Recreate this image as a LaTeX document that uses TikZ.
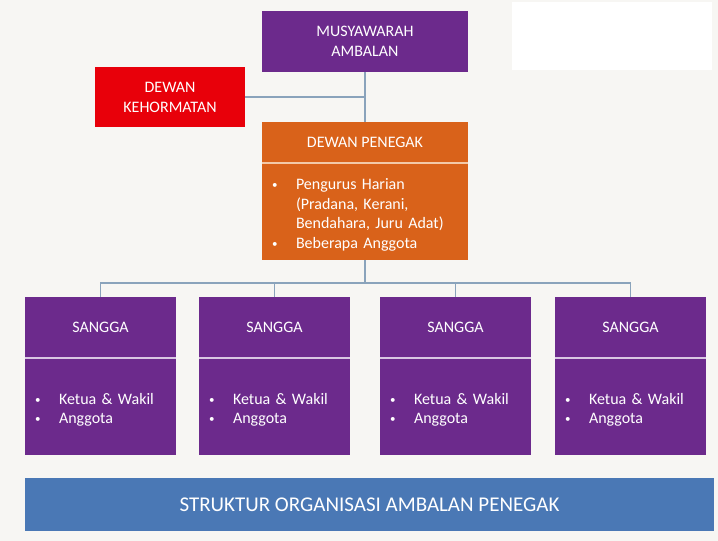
\documentclass[tikz,border=0pt]{standalone}
\usepackage{fontspec}
\setmainfont{Carlito}
\usepackage[dvipsnames]{xcolor}
\usepackage{tikz}
\usetikzlibrary{positioning}

\definecolor{latar}{HTML}{F7F6F3}
\definecolor{ungu}{HTML}{6C2A8C}
\definecolor{oranye}{HTML}{D9621A}
\definecolor{merah}{HTML}{E8000A}
\definecolor{biru}{HTML}{4A78B5}
\definecolor{garis}{HTML}{8AA3BB}
\definecolor{sekatungu}{HTML}{D9C6E3}
\definecolor{sekatoranye}{HTML}{F3C9A8}
\newcommand{\butir}{\makebox[24pt][l]{\raisebox{1pt}{\fontsize{11}{11}\selectfont\textbullet}}}

\begin{document}
\begin{tikzpicture}[x=1pt,y=-1pt,
	kotak/.style={fill=#1, text=white, inner sep=0pt, align=center, font=\fontsize{16}{20}\selectfont},
	isi/.style={fill=#1, text=white, inner xsep=10pt, inner ysep=0pt, align=left, font=\fontsize{16}{19.5}\selectfont, minimum height=97pt, execute at begin node={\rule{0pt}{18pt}}},
	hubung/.style={draw=garis, line width=1.5pt}]
				\fill[latar] (0,0) rectangle (718,541);
				\fill[white] (512,2) rectangle (712,70);
				\node[kotak=ungu, minimum width=206pt, minimum height=61pt] (musyawarah) at (365,41.5) {MUSYAWARAH\\AMBALAN};
				\node[kotak=merah, minimum width=150pt, minimum height=60pt] (kehormatan) at (170,97) {DEWAN\\KEHORMATAN};
				\node[kotak=oranye, minimum width=206pt, minimum height=41pt] (penegak) at (365,142.5) {DEWAN PENEGAK};
				\node[isi=oranye, text width=186pt] (penegakisi) at (365,211.5) {\butir Pengurus Harian\\\hspace*{24pt}(Pradana, Kerani,\\\hspace*{24pt}Bendahara, Juru Adat)\\\butir Beberapa Anggota};
				\draw[sekatoranye, line width=1.5pt] (penegak.south west) -- (penegak.south east);
				\node[kotak=ungu, minimum width=151pt, minimum height=61pt] (sangga1) at (100.5,327.5) {SANGGA};
				\node[isi=ungu, text width=131pt] (sangga1isi) at (100.5,406.5) {\butir Ketua \& Wakil\\\butir Anggota};
				\node[kotak=ungu, minimum width=151pt, minimum height=61pt] (sangga2) at (274.5,327.5) {SANGGA};
				\node[isi=ungu, text width=131pt] (sangga2isi) at (274.5,406.5) {\butir Ketua \& Wakil\\\butir Anggota};
				\node[kotak=ungu, minimum width=151pt, minimum height=61pt] (sangga3) at (455.5,327.5) {SANGGA};
				\node[isi=ungu, text width=131pt] (sangga3isi) at (455.5,406.5) {\butir Ketua \& Wakil\\\butir Anggota};
				\node[kotak=ungu, minimum width=151pt, minimum height=61pt] (sangga4) at (630.5,327.5) {SANGGA};
				\node[isi=ungu, text width=131pt] (sangga4isi) at (630.5,406.5) {\butir Ketua \& Wakil\\\butir Anggota};
				\draw[sekatungu, line width=1.5pt] (sangga1.south west) -- (sangga1.south east);
				\draw[sekatungu, line width=1.5pt] (sangga2.south west) -- (sangga2.south east);
				\draw[sekatungu, line width=1.5pt] (sangga3.south west) -- (sangga3.south east);
				\draw[sekatungu, line width=1.5pt] (sangga4.south west) -- (sangga4.south east);
				\node[kotak=biru, minimum width=689pt, minimum height=53pt, font=\fontsize{21}{24}\selectfont] (judul) at (369.5,504.5) {STRUKTUR ORGANISASI AMBALAN PENEGAK};
				\coordinate (bus) at (365,283);
				\draw[hubung] (musyawarah.south) -- (penegak.north);
				\draw[hubung] (kehormatan.east) -- (kehormatan.east -| musyawarah.south);
				\draw[hubung] (penegakisi.south) -- (bus);
				\draw[hubung] (sangga1.north) |- (bus) -| (sangga4.north);
				\draw[hubung] (sangga2.north) -- (sangga2.north |- bus);
				\draw[hubung] (sangga3.north) -- (sangga3.north |- bus);
			\end{tikzpicture}
\end{document}
